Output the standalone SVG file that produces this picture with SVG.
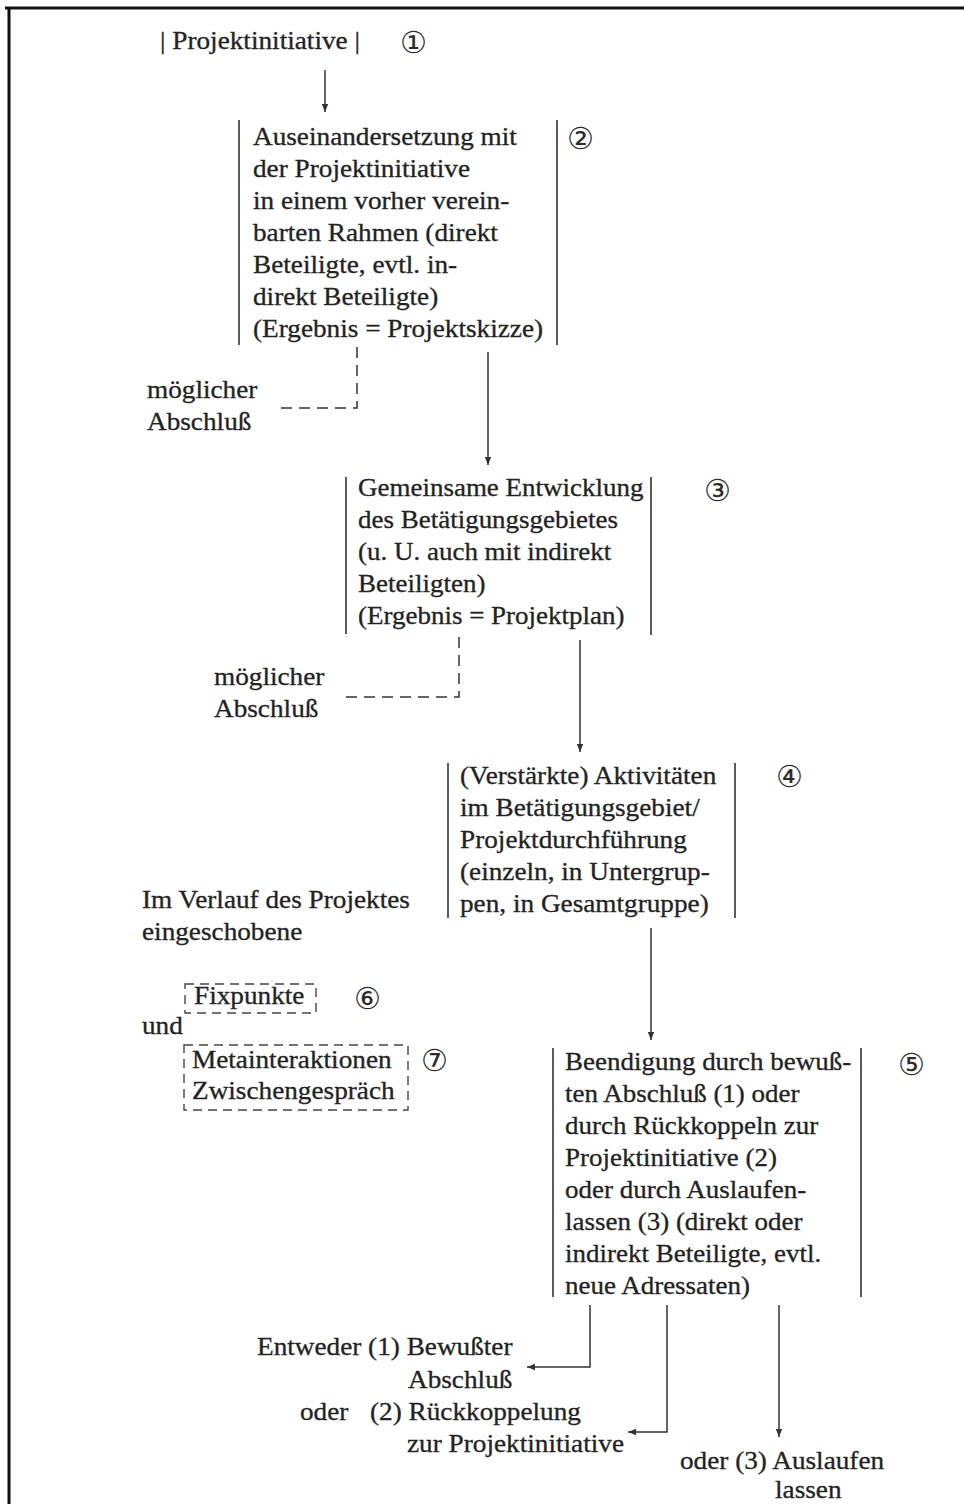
<svg xmlns="http://www.w3.org/2000/svg" width="964" height="1504" viewBox="0 0 964 1504">
<style>
.t{font-family:"Liberation Serif","Times New Roman",serif;font-size:25px;fill:#232323;stroke:#232323;stroke-width:0.3}
.n{font-family:"DejaVu Sans","Noto Sans",sans-serif;font-size:30px;fill:#2b2b2b}
.bar{stroke:#333;stroke-width:1.6;fill:none}
.c{stroke:#333;stroke-width:1.5;fill:none}
.d{stroke:#333;stroke-width:1.5;fill:none;stroke-dasharray:11 7}
.db{stroke:#444;stroke-width:1.4;fill:none;stroke-dasharray:9 6}
.frame{stroke:#111;stroke-width:3;fill:none}
</style>
<defs>
<marker id="ah" viewBox="0 0 10 10" refX="10" refY="5" markerWidth="8" markerHeight="8" markerUnits="userSpaceOnUse" orient="auto">
<path d="M0,1 L10,5 L0,9 Z" fill="#333"/>
</marker>
</defs>
<rect width="964" height="1504" fill="#fff"/>
<path class="frame" d="M5,8 H964 M9,8 V1504"/>

<g id="n1">
<text class="t" transform="translate(160,49) scale(1.09,1)">| Projektinitiative |</text>
<text class="n" x="400" y="53">①</text>
</g>

<g id="n2">
<path class="bar" d="M239,120 V345 M557,120 V345"/>
<text class="t" transform="translate(253,145) scale(1.09,1)"><tspan x="0" y="0">Auseinandersetzung mit</tspan><tspan x="0" y="32">der Projektinitiative</tspan><tspan x="0" y="64">in einem vorher verein-</tspan><tspan x="0" y="96">barten Rahmen (direkt</tspan><tspan x="0" y="128">Beteiligte, evtl. in-</tspan><tspan x="0" y="160">direkt Beteiligte)</tspan><tspan x="0" y="192">(Ergebnis = Projektskizze)</tspan></text>
<text class="n" x="567" y="149">②</text>
</g>

<g id="e2">
<text class="t" transform="translate(147,398) scale(1.09,1)"><tspan x="0" y="0">möglicher</tspan><tspan x="0" y="32">Abschluß</tspan></text>
</g>

<g id="n3">
<path class="bar" d="M346,477 V634 M651,477 V635"/>
<text class="t" transform="translate(358,496) scale(1.08,1)"><tspan x="0" y="0">Gemeinsame Entwicklung</tspan><tspan x="0" y="32">des Betätigungsgebietes</tspan><tspan x="0" y="64">(u. U. auch mit indirekt</tspan><tspan x="0" y="96">Beteiligten)</tspan><tspan x="0" y="128">(Ergebnis = Projektplan)</tspan></text>
<text class="n" x="704" y="501">③</text>
</g>

<g id="e3">
<text class="t" transform="translate(214,685) scale(1.09,1)"><tspan x="0" y="0">möglicher</tspan><tspan x="0" y="32">Abschluß</tspan></text>
</g>

<g id="n4">
<path class="bar" d="M448,763 V918 M735,763 V918"/>
<text class="t" transform="translate(460,784) scale(1.09,1)"><tspan x="0" y="0">(Verstärkte) Aktivitäten</tspan><tspan x="0" y="32">im Betätigungsgebiet/</tspan><tspan x="0" y="64">Projektdurchführung</tspan><tspan x="0" y="96">(einzeln, in Untergrup-</tspan><tspan x="0" y="128">pen, in Gesamtgruppe)</tspan></text>
<text class="n" x="776" y="787">④</text>
</g>

<g id="lbl-verlauf">
<text class="t" transform="translate(142,908) scale(1.09,1)"><tspan x="0" y="0">Im Verlauf des Projektes</tspan><tspan x="0" y="32">eingeschobene</tspan></text>
</g>

<g id="n6">
<rect class="db" x="185" y="984" width="131" height="29"/>
<text class="t" transform="translate(194,1004) scale(1.09,1)">Fixpunkte</text>
<text class="n" x="354" y="1009">⑥</text>
</g>

<g id="lbl-und">
<text class="t" transform="translate(142,1034) scale(1.09,1)">und</text>
</g>

<g id="n7">
<rect class="db" x="184" y="1045" width="224" height="65"/>
<text class="t" transform="translate(192,1068) scale(1.09,1)"><tspan x="0" y="0">Metainteraktionen</tspan><tspan x="0" y="31">Zwischengespräch</tspan></text>
<text class="n" x="421" y="1071">⑦</text>
</g>

<g id="n5">
<path class="bar" d="M553,1048 V1297 M861,1048 V1297"/>
<text class="t" transform="translate(565,1070) scale(1.08,1)"><tspan x="0" y="0">Beendigung durch bewuß-</tspan><tspan x="0" y="32">ten Abschluß (1) oder</tspan><tspan x="0" y="64">durch Rückkoppeln zur</tspan><tspan x="0" y="96">Projektinitiative (2)</tspan><tspan x="0" y="128">oder durch Auslaufen-</tspan><tspan x="0" y="160">lassen (3) (direkt oder</tspan><tspan x="0" y="192">indirekt Beteiligte, evtl.</tspan><tspan x="0" y="224">neue Adressaten)</tspan></text>
<text class="n" x="898" y="1075">⑤</text>
</g>

<g id="o1">
<text class="t" transform="translate(257,1355) scale(1.09,1)">Entweder (1) Bewußter</text>
<text class="t" transform="translate(408,1388) scale(1.09,1)">Abschluß</text>
</g>

<g id="o2">
<text class="t" transform="translate(300,1420) scale(1.09,1)">oder</text>
<text class="t" transform="translate(370,1420) scale(1.09,1)">(2) Rückkoppelung</text>
<text class="t" transform="translate(407,1452) scale(1.09,1)">zur Projektinitiative</text>
</g>

<g id="o3">
<text class="t" transform="translate(680,1469) scale(1.09,1)">oder (3) Auslaufen</text>
<text class="t" transform="translate(775,1498) scale(1.09,1)">lassen</text>
</g>

<g id="connectors">
<path class="c" d="M325,70 V112" marker-end="url(#ah)"/>
<path class="d" d="M357,347 V408 H278"/>
<path class="c" d="M488,352 V465" marker-end="url(#ah)"/>
<path class="d" d="M459,637 V697 H345"/>
<path class="c" d="M580,640 V752" marker-end="url(#ah)"/>
<path class="c" d="M651,928 V1040" marker-end="url(#ah)"/>
<path class="c" d="M590,1305 V1367 H527" marker-end="url(#ah)"/>
<path class="c" d="M667,1305 V1432 H628" marker-end="url(#ah)"/>
<path class="c" d="M779,1305 V1437" marker-end="url(#ah)"/>
</g>
</svg>
